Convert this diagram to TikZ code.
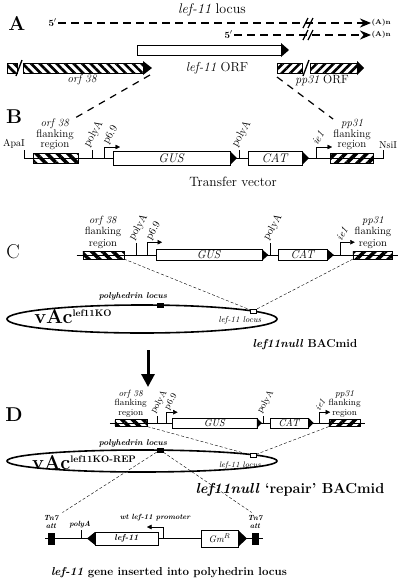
\documentclass[tikz,border=0pt]{standalone}
\usetikzlibrary{arrows.meta,patterns.meta}

% gene cassette of the transfer vector, drawn on its own baseline
% #1 label font, #2 gene font, #3 promoter height, #4 polyA height
\newcommand{\cassette}[4]{%
  \draw (26,0) -- (380,0);
  \draw[hatchL={7.5pt}{3.6pt}] (33,-5) rectangle (78,5);
  \draw[hatchR={7.5pt}{3.6pt}] (330,-5) rectangle (373,5);
  \coordinate (flL) at (78,5);
  \coordinate (flR) at (330,5);
  \node[lab, font=#1] (flLtext) at (55,-8) {\textit{orf 38}\\flanking\\region};
  \node[lab, font=#1] (flRtext) at (352,-8) {\textit{pp31}\\flanking\\region};
  %
  \draw (92,0) -- (92,-#4);
  \node[turned, font=#1] (pA1) at (91,-#4) {polyA};
  \draw[prom] (104,0) |- (120,-#3);
  \node[turned, font=#1] (p69) at (110,-#3) {p6.9};
  \draw[genebox] (113,-7) rectangle (230,7);
  \fill (230,-7) -- (237,0) -- (230,7) -- cycle;
  \node[font=#2] (gus) at (171.5,0) {\textit{GUS}};
  %
  \draw (239,0) -- (239,-#4);
  \node[turned, font=#1] (pA2) at (239,-#4) {polyA};
  \draw[genebox] (248,-7) rectangle (302,7);
  \fill (302,-7) -- (309,0) -- (302,7) -- cycle;
  \node[font=#2] (cat) at (275,0) {\textit{CAT}};
  %
  \draw[prom] (316,0) |- (332,-#3);
  \node[turned, font=#1] (ie1) at (318,-#3) {\textit{ie1}};
}

\begin{document}
\begin{tikzpicture}[x=1pt, y=-1pt,
    hatchL/.style 2 args={draw, pattern={Lines[angle=-45,distance=#1,line width=#2]}},
    hatchR/.style 2 args={draw, pattern={Lines[angle=45,distance=#1,line width=#2]}},
    genebox/.style={draw, fill=white},
    lab/.style={anchor=south, align=center, inner sep=0pt},
    turned/.style={rotate=60, anchor=south west, inner sep=0.5pt},
    prom/.style={-{Triangle[length=4.5pt,width=4.5pt]}},
    panel/.style={font=\bfseries\fontsize{20}{20}\selectfont, inner sep=0pt},
    transcript/.style={line width=2.4pt, dash pattern=on 8pt off 5pt,
      -{Stealth[length=11pt,width=9pt]}},
    breakmark/.style={line width=1.3pt},
    projA/.style={line width=1.2pt, dash pattern=on 7pt off 6pt},
    proj/.style={thin, dash pattern=on 3pt off 2pt},
    locusbox/.style={draw, minimum width=6pt, minimum height=4pt, inner sep=0pt},
    attbox/.style={fill=black, minimum width=7pt, minimum height=12pt, inner sep=0pt},
    small/.style={font=\bfseries\itshape\fontsize{7.5}{8}\selectfont, inner sep=0.5pt, align=center}]
  \useasboundingbox (0,0) rectangle (400,584);

  % A: the lef-11 locus
  \node[panel] (pA) at (17,23) {A};
  \node[font=\fontsize{14}{14}\selectfont] (locus) at (212,10) {\textit{lef-11} locus};
  \node[font=\bfseries\fontsize{9.5}{9.5}\selectfont, anchor=east, inner sep=1pt] (fiveA) at (58,23) {5$'$};
  \node[font=\bfseries\fontsize{7}{7}\selectfont, anchor=west, inner sep=0.5pt] (tailA) at (371,23) {(A)n};
  \draw[transcript] (fiveA) -- (tailA);
  \node[font=\bfseries\fontsize{9.5}{9.5}\selectfont, anchor=east, inner sep=1pt] (fiveB) at (234,35) {5$'$};
  \node[font=\bfseries\fontsize{7}{7}\selectfont, anchor=west, inner sep=0.5pt] (tailB) at (371,35) {(A)n};
  \draw[transcript] (fiveB) -- (tailB);
  \draw[breakmark] (303,28) -- (308,18) (308,28) -- (313,18);
  \draw[breakmark] (303,40) -- (308,30) (308,40) -- (313,30);
  %
  \draw[genebox, line width=0.9pt] (137,45) rectangle (281,55);
  \fill (281,43) -- (289,50) -- (281,57) -- cycle;
  \node[font=\fontsize{13}{13}\selectfont] (lefORF) at (217,68) {\textit{lef-11} ORF};
  %
  \draw[hatchL={6pt}{2.6pt}] (7,63) rectangle (17,73);
  \draw[hatchL={6pt}{2.6pt}] (23,63) rectangle (143,73);
  \fill (143,61) -- (152,68) -- (143,75) -- cycle;
  \draw[breakmark] (16,76) -- (22,60);
  \node[font=\itshape\fontsize{11.5}{11.5}\selectfont] (orfA) at (82,80) {orf 38};
  \draw[hatchR={6pt}{2.6pt}] (277,63) rectangle (302,73);
  \draw[hatchR={6pt}{2.6pt}] (310,63) rectangle (357,73);
  \fill (357,61) -- (364,68) -- (357,75) -- cycle;
  \draw[breakmark] (303,76) -- (309,60);
  \node[font=\fontsize{12}{12}\selectfont] (ppA) at (322,80) {\textit{pp31} ORF};
  \coordinate (orfEnd) at (150,75);
  \coordinate (ppStart) at (277,77);

  % B: transfer vector
  \node[panel] (pB) at (14,117) {B};
  \begin{scope}[shift={(0,158)}, name prefix=b-]
    \cassette{\fontsize{11}{10.5}\selectfont}{\fontsize{12.5}{12.5}\selectfont}{11}{8}
    \draw (24,-8) |- (26,0);
    \draw (380,0) -| (383,-8);
    \node[anchor=south east, inner sep=1pt, font=\fontsize{10}{10}\selectfont] (apa) at (26,-8) {ApaI};
    \node[anchor=south, inner sep=1pt, font=\fontsize{10}{10}\selectfont] (nsi) at (388,-8) {NsiI};
  \end{scope}
  \node[font=\fontsize{13.5}{13.5}\selectfont] (tv) at (233,182) {Transfer vector};
  \draw[projA] (orfEnd) -- (b-flLtext.north east);
  \draw[projA] (ppStart) -- (b-flRtext.north west);

  % C: lef11null BACmid
  \node[font=\fontsize{20}{20}\selectfont, inner sep=0pt] (pC) at (13,252) {C};
  \begin{scope}[shift={(53,255)}, xscale=0.909, yscale=0.8, name prefix=c-]
    \cassette{\fontsize{10.5}{11.5}\selectfont}{\fontsize{11.5}{11.5}\selectfont}{16}{15}
  \end{scope}
  \draw[line width=1.6pt] (142,319) ellipse [x radius=135pt, y radius=14pt];
  \node[locusbox, fill=black] (polhC) at (160,305) {};
  \node[locusbox, fill=white] (lefC) at (253,311) {};
  \node[font=\bfseries\itshape\fontsize{8.5}{8.5}\selectfont] (polhCtext) at (133,296) {polyhedrin locus};
  \node[font=\itshape\fontsize{8.5}{8.5}\selectfont] (lefCtext) at (240,320) {lef-11 locus};
  \node[font=\bfseries] (vacC) at (73,317) {\fontsize{20}{20}\selectfont vAc\raisebox{7pt}{\fontsize{9.5}{9.5}\selectfont lef11KO}};
  \draw[proj] (c-flL) -- (lefC);
  \draw[proj] (c-flR) -- (lefC);
  \node[font=\bfseries\fontsize{11.5}{11.5}\selectfont] (bacC) at (305,345) {\textit{lef11null} BACmid};
  \coordinate (arrTop) at (148,350);
  \coordinate (arrBot) at (148,387);
  \draw[line width=3pt, -{Triangle[length=13pt,width=13pt]}] (arrTop) -- (arrBot);

  % D: lef11null 'repair' BACmid
  \node[panel] (pD) at (14,415) {D};
  \begin{scope}[shift={(91.2,423)}, xscale=0.72, yscale=0.72, name prefix=d-]
    \cassette{\fontsize{9}{9.5}\selectfont}{\fontsize{10}{10}\selectfont}{15}{10}
  \end{scope}
  \draw[line width=1.6pt] (142,461) ellipse [x radius=135pt, y radius=11pt];
  \node[locusbox, fill=black] (polhD) at (160,450) {};
  \node[locusbox, fill=white] (lefD) at (253,455.5) {};
  \node[font=\bfseries\itshape\fontsize{8.5}{8.5}\selectfont] (polhDtext) at (133,443) {polyhedrin locus};
  \node[font=\itshape\fontsize{8}{8}\selectfont] (lefDtext) at (240,465) {lef-11 locus};
  \node[font=\bfseries] (vacD) at (84,463) {\fontsize{20}{20}\selectfont vAc\raisebox{7pt}{\fontsize{9.5}{9.5}\selectfont lef11KO-REP}};
  \draw[proj] (d-flL) -- (lefD);
  \draw[proj] (d-flR) -- (lefD);
  \node[font=\bfseries\fontsize{14.5}{14.5}\selectfont] (bacD) at (290,490) {\textit{lef11null} `repair' BACmid};

  % lef-11 repair insert
  \draw (45,538) -- (263,538);
  \node[attbox] (tnL) at (51.5,539) {};
  \node[attbox] (tnR) at (255,539) {};
  \node[small] (tnLtext) at (51,522) {Tn7\\att};
  \node[small] (tnRtext) at (255,522) {Tn7\\att};
  \draw (81,538) -- (81,530);
  \node[small, anchor=south] (pAins) at (80,529) {polyA};
  \draw[genebox] (95,532) rectangle (158,545);
  \fill (95,532) -- (87,538.5) -- (95,545) -- cycle;
  \node[small, font=\bfseries\itshape\fontsize{8.5}{8.5}\selectfont] (lefIns) at (126.5,538.5) {lef-11};
  \draw[prom] (163,538) |- (147,527);
  \node[small] (wtprom) at (155,518) {wt lef-11 promoter};
  \draw[genebox] (201,530) rectangle (238,547);
  \fill (238,530) -- (247,538.5) -- (238,547) -- cycle;
  \node[small, font=\itshape\fontsize{9.5}{9.5}\selectfont] (gmr) at (219.5,538.5) {Gm$^{R}$};
  \draw[proj, shorten >=4pt] (polhD) -- (tnLtext.north east);
  \draw[proj, shorten >=4pt] (polhD) -- (tnRtext.north);
  \node[font=\bfseries\fontsize{11.5}{11.5}\selectfont] (caption) at (169,573) {\textit{lef-11} gene inserted into polyhedrin locus};
\end{tikzpicture}
\end{document}
